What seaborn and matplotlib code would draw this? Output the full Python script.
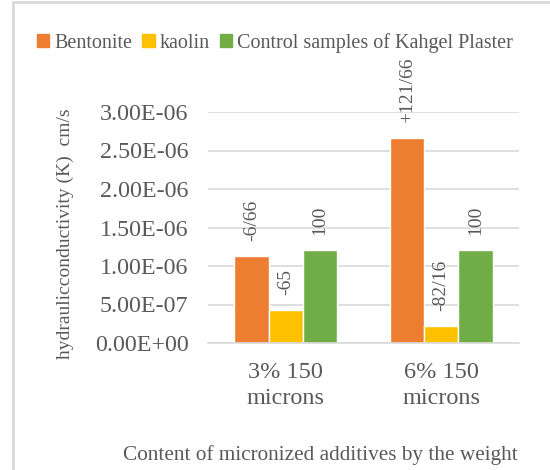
import matplotlib
matplotlib.use("Agg")
import matplotlib.pyplot as plt
from matplotlib.lines import Line2D
from matplotlib.ticker import FuncFormatter, FixedLocator
import pandas as pd
import seaborn as sns

# ── data ──
categories = ["3% 150\nmicrons", "6% 150\nmicrons"]
series = ["Bentonite", "kaolin", "Control samples of Kahgel Plaster"]
bentonite = [1.13e-06, 2.66e-06]
kaolin = [0.43e-06, 0.22e-06]
control = [1.21e-06, 1.21e-06]
bentonite_labels = ["-6/66", "+121/66"]
kaolin_labels = ["-65", "-82/16"]
control_labels = ["100", "100"]

colors = ["#ED7D31", "#FFC000", "#70AD47"]
text_color = "#595959"
grid_color = "#D9D9D9"
serif = "Liberation Serif"

df = pd.DataFrame({
    "category": categories * 3,
    "series": [s for s in series for _ in categories],
    "value": bentonite + kaolin + control,
})

sns.set_theme(style="white")
plt.rcParams["font.family"] = [serif, "DejaVu Serif"]

fig = plt.figure(figsize=(5.5, 4.7), dpi=100)
ax = fig.add_axes([208 / 550, 1 - 343 / 470, (519 - 208) / 550, (343 - 112) / 470])

sns.barplot(data=df, x="category", y="value", hue="series", hue_order=series,
            palette=colors, width=0.66, saturation=1, ax=ax, legend=False)

for container, labels in zip(ax.containers, [bentonite_labels, kaolin_labels, control_labels]):
    ax.bar_label(container, labels=labels, rotation=90, padding=11,
                 fontsize=14, color=text_color, family=serif)

ax.set_ylim(0, 3e-06)
ax.set_xlim(-0.5, 1.5)
ax.set_yticks([i * 5e-07 for i in range(7)])
ax.yaxis.set_major_formatter(FuncFormatter(lambda v, p: f"{v:.2E}"))
ax.grid(axis="y", color=grid_color, linewidth=1.2)
ax.set_axisbelow(True)

for s in ["left", "right", "top"]:
    ax.spines[s].set_visible(False)
ax.spines["bottom"].set_color(grid_color)
ax.spines["bottom"].set_linewidth(1.2)

ax.tick_params(axis="y", length=0, pad=14, labelcolor=text_color)
ax.tick_params(axis="x", which="major", length=0, pad=14, labelcolor=text_color)
ax.xaxis.set_minor_locator(FixedLocator([-0.5, 0.5, 1.5]))
ax.tick_params(axis="x", which="minor", length=5, width=1.2, color=grid_color)
for lbl in ax.get_yticklabels():
    lbl.set_fontfamily(serif)
    lbl.set_fontsize(17.3)
for lbl in ax.get_xticklabels():
    lbl.set_fontfamily(serif)
    lbl.set_fontsize(17.5)
    lbl.set_linespacing(1.3)

ax.set_xlabel("Content of micronized additives by the weight", fontsize=15.3,
              color=text_color, family=serif)
ax.xaxis.set_label_coords((320 - 208) / 311, (343 - 445) / 231)
ax.set_ylabel("hydraulicconductivity (K)  cm/s", fontsize=14, color=text_color,
              family=serif)
ax.yaxis.set_label_coords((74 - 208) / 311, (343 - 234) / 231)

handles = [plt.Rectangle((0, 0), 1, 1, color=c) for c in colors]
fig.legend(handles, series, loc="center", bbox_to_anchor=(0.5, 1 - 43 / 470), ncol=3,
           frameon=False, prop={"family": serif, "size": 14.5}, handlelength=0.6,
           handleheight=0.6, handletextpad=0.25, columnspacing=0.5,
           labelcolor=text_color)

# light frame on left and top, as in the source image
fig.add_artist(Line2D([13 / 550, 13 / 550], [0, 1 - 2 / 470], color=grid_color, lw=2))
fig.add_artist(Line2D([13 / 550, 1], [1 - 2 / 470, 1 - 2 / 470], color=grid_color, lw=2))

fig.savefig("out.png", dpi=100)
